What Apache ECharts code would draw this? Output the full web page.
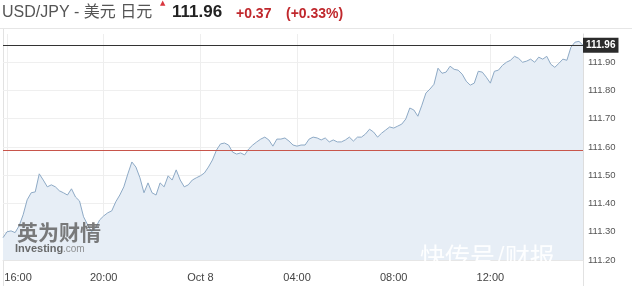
<!DOCTYPE html>
<html>
<head>
<meta charset="utf-8">
<script src="https://cdn.jsdelivr.net/npm/echarts@6/dist/echarts.min.js"></script>
<style>
html,body{margin:0;padding:0;background:#fff;}
#c{width:632px;height:286px;}
</style>
</head>
<body>
<div id="c"></div>
<script>
// ---- data ----
var symbolName = 'USD/JPY - 美元 日元';
var lastPrice = 111.96;
var change = '+0.37';
var changePct = '(+0.33%)';
var prevClose = 111.59;
var startTime = '15:50';           // first sample, Oct 7
var stepMinutes = 10;
var tickTimes = ['16:00', '20:00', '00:00', '04:00', '08:00', '12:00'];
var tickLabels = ['16:00', '20:00', 'Oct 8', '04:00', '08:00', '12:00'];
var yMin = 111.2, yMax = 112.0, yStep = 0.1;
var prices = [
  111.279,111.300,111.303,111.297,111.321,111.360,111.413,111.438,111.441,111.505,
  111.483,111.459,111.466,111.459,111.445,111.438,111.430,111.452,111.423,111.409,
  111.353,111.325,111.300,111.314,111.342,111.356,111.367,111.374,111.406,111.430,
  111.459,111.505,111.547,111.529,111.491,111.438,111.473,111.438,111.430,111.473,
  111.459,111.498,111.483,111.519,111.483,111.459,111.466,111.483,111.491,111.498,
  111.508,111.529,111.554,111.589,111.611,111.614,111.607,111.582,111.575,111.579,
  111.572,111.593,111.607,111.618,111.628,111.635,111.625,111.603,111.628,111.628,
  111.632,111.621,111.607,111.603,111.607,111.607,111.628,111.635,111.632,111.625,
  111.632,111.618,111.625,111.618,111.618,111.625,111.635,111.621,111.635,111.635,
  111.646,111.663,111.653,111.635,111.649,111.660,111.671,111.667,111.674,111.681,
  111.699,111.738,111.731,111.709,111.748,111.791,111.805,111.822,111.879,111.861,
  111.865,111.886,111.875,111.872,111.858,111.833,111.819,111.826,111.868,111.865,
  111.847,111.826,111.868,111.872,111.889,111.900,111.907,111.921,111.914,111.900,
  111.904,111.911,111.900,111.918,111.911,111.921,111.893,111.882,111.896,111.911,
  111.907,111.953,111.971,111.974,111.960
];

// category times (HH:MM), one per sample
var categories = [];
(function(){
  var p = startTime.split(':');
  var m = (+p[0]) * 60 + (+p[1]);
  for (var i = 0; i < prices.length; i++) {
    var t = (m + i * stepMinutes) % 1440;
    var hh = ('0' + Math.floor(t / 60)).slice(-2), mm = ('0' + (t % 60)).slice(-2);
    categories.push(i + '|' + hh + ':' + mm);
  }
})();
function timeOf(v){ return String(v).split('|')[1]; }
function isTick(idx, v){ return tickTimes.indexOf(timeOf(v)) >= 0; }

var chart = echarts.init(document.getElementById('c'), null, {renderer:'canvas'});
var F = 'Arial, "Liberation Sans", "Noto Sans CJK SC", sans-serif';
var option = {
  animation: false,
  backgroundColor: '#fff',
  grid: {left: 3, right: 49, top: 34, bottom: 26, containLabel: false},
  xAxis: {
    type: 'category',
    boundaryGap: false,
    data: categories,
    axisLine: {show: true, lineStyle: {color: '#e6e6e6'}},
    axisTick: {show: false},
    splitLine: {show: true, interval: isTick, lineStyle: {color: '#eeeeee', width: 1}},
    axisLabel: {
      interval: isTick,
      margin: 12,
      color: '#444',
      fontSize: 11,
      fontFamily: F,
      formatter: function(v){
        var k = tickTimes.indexOf(timeOf(v));
        var s = tickLabels[k];
        if (k === 0) return '{a|' + s + '}';
        return s;
      },
      rich: {a: {padding: [0, 0, 0, 22], fontSize: 11, color: '#444', fontFamily: F}}
    }
  },
  yAxis: {
    type: 'value',
    position: 'right',
    min: yMin, max: yMax, interval: yStep,
    axisLine: {show: true, lineStyle: {color: '#dddddd'}},
    axisTick: {show: false},
    splitLine: {show: true, showMaxLine: false, lineStyle: {color: '#efefef'}},
    axisLabel: {
      margin: 5,
      color: '#555',
      fontSize: 9.5,
      fontFamily: F,
      showMaxLabel: false,
      formatter: function(v){ return v.toFixed(2); }
    }
  },
  series: [{
    type: 'line',
    data: prices,
    symbol: 'none',
    smooth: false,
    lineStyle: {color: '#8eaac6', width: 1},
    areaStyle: {color: '#e7eef6', opacity: 1},
    markLine: {
      silent: true,
      symbol: 'none',
      animation: false,
      data: [
        {yAxis: lastPrice, lineStyle: {color: '#333', width: 1, type: 'solid'},
         label: {show: true, position: 'end', distance: 0, formatter: lastPrice.toFixed(2),
                 backgroundColor: '#2b2b2b', color: '#fff', fontWeight: 'bold', fontSize: 10,
                 fontFamily: F, padding: [3, 3, 2, 3], align: 'left'}},
        {yAxis: prevClose, lineStyle: {color: '#c8554b', width: 1, type: 'solid'},
         label: {show: false}}
      ]
    }
  }],
  graphic: [
    {type: 'line', shape: {x1: 0, y1: 28.5, x2: 632, y2: 28.5}, style: {stroke: '#e6e6e6', lineWidth: 1}, silent: true},
    {type: 'line', shape: {x1: 3.5, y1: 29, x2: 3.5, y2: 286}, style: {stroke: '#e2e2e2', lineWidth: 1}, silent: true},
    {type: 'line', shape: {x1: 583.5, y1: 260, x2: 583.5, y2: 286}, style: {stroke: '#e2e2e2', lineWidth: 1}, silent: true},
    {type: 'text', left: 2, top: 5, style: {text: symbolName, fontSize: 16, fill: '#555', fontFamily: F}},
    {type: 'text', left: 160, top: 0, style: {text: '▲', fontSize: 7, fill: '#d9363e', fontFamily: 'DejaVu Sans'}},
    {type: 'text', left: 172, top: 4, style: {text: lastPrice.toFixed(2), fontSize: 17, fontWeight: 'bold', fill: '#222', fontFamily: F}},
    {type: 'text', left: 236, top: 7, style: {text: change, fontSize: 14, fontWeight: 'bold', fill: '#c0282d', fontFamily: F}},
    {type: 'text', left: 286, top: 7, style: {text: changePct, fontSize: 14, fontWeight: 'bold', fill: '#c0282d', fontFamily: F}},
    {type: 'text', left: 17, top: 222, z: 10, style: {text: '英为财情', fontSize: 21, fontWeight: 'bold', fill: 'rgba(100,100,100,0.85)', fontFamily: '"Noto Sans CJK SC", sans-serif'}},
    {type: 'text', left: 15, top: 243, z: 10, style: {text: 'Investing', fontSize: 11, fontWeight: 'bold', fill: 'rgba(90,90,90,0.9)', fontFamily: F}},
    {type: 'text', left: 63, top: 244, z: 10, style: {text: '.com', fontSize: 10, fill: 'rgba(120,120,120,0.8)', fontFamily: F}},
    {type: 'text', left: 420, top: 244, z: 10, style: {text: '快传号/财报', fontSize: 25, fill: 'rgba(255,255,255,0.92)', fontFamily: '"Noto Sans CJK SC", sans-serif', letterSpacing: 4}}
  ]
};
chart.setOption(option);
</script>
</body>
</html>
